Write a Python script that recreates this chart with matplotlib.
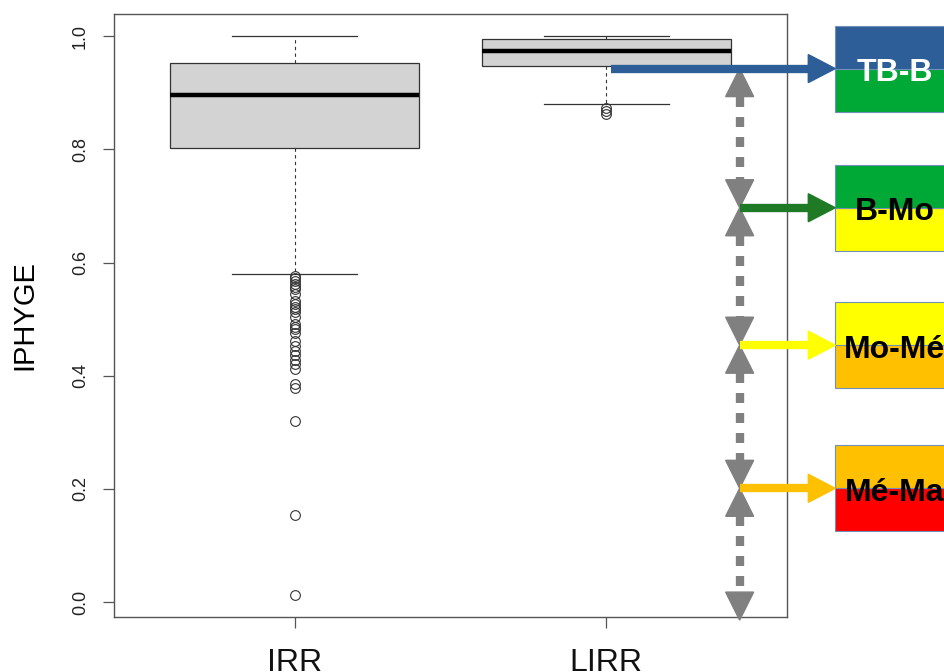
import matplotlib.pyplot as plt
from matplotlib.patches import Polygon, Rectangle
import numpy as np

plt.rcParams['font.family'] = ['Liberation Sans', 'DejaVu Sans']

# boxplot statistics
groups = ['IRR', 'LIRR']
whislo = [0.579, 0.880]
q1 = [0.802, 0.947]
med = [0.896, 0.9735]
q3 = [0.953, 0.995]
whishi = [1.0, 1.0]
irr_out = [0.577, 0.573, 0.568, 0.562, 0.557, 0.553, 0.545, 0.532, 0.527, 0.522,
           0.518, 0.512, 0.503, 0.492, 0.487, 0.482, 0.476, 0.462, 0.452, 0.443,
           0.437, 0.428, 0.421, 0.412, 0.385, 0.379, 0.320, 0.153, 0.013]
lirr_out = [0.874, 0.868, 0.862]

# class limits and labels
limits = [0.943, 0.697, 0.454, 0.201, -0.032]
classes = ['TB-B', 'B-Mo', 'Mo-Mé', 'Mé-Ma']
top_col = ['#2E5E98', '#00A835', '#FFFF00', '#FFC000']
bot_col = ['#00A835', '#FFFF00', '#FFC000', '#FF0000']
arrow_col = ['#2E5E98', '#1E7A24', '#FFFF00', '#FFC000']
txt_col = ['white', 'black', 'black', 'black']

fig = plt.figure(figsize=(9.44, 6.72), dpi=100)
ax = fig.add_axes([114/944, 55/672, 673/944, 603/672])

stats = []
for i, g in enumerate(groups):
    stats.append(dict(label=g, med=med[i], q1=q1[i], q3=q3[i],
                      whislo=whislo[i], whishi=whishi[i],
                      fliers=[irr_out, lirr_out][i]))
ax.bxp(stats, positions=[1, 2], widths=0.8, capwidths=0.4, patch_artist=True,
       boxprops=dict(facecolor='#D3D3D3', edgecolor='#333333', lw=0.9),
       medianprops=dict(color='black', lw=3.2, solid_capstyle='butt'),
       whiskerprops=dict(color='#333333', lw=0.8, linestyle=(0, (3, 3))),
       capprops=dict(color='#333333', lw=0.9),
       flierprops=dict(marker='o', mfc='none', mec='#333333', ms=7, mew=0.8))

ax.set_xlim(0.42, 2.58)
ax.set_ylim(-0.0265, 1.0395)
ax.set_yticks([0.0, 0.2, 0.4, 0.6, 0.8, 1.0])
ax.set_yticklabels(['0.0', '0.2', '0.4', '0.6', '0.8', '1.0'], rotation=90,
                   va='center', fontsize=13, color='#222222')
ax.set_xticks([1, 2])
ax.set_xticklabels(groups, fontsize=23, color='#111111')
ax.tick_params(axis='y', length=8, width=0.9, color='#555555', pad=10)
ax.tick_params(axis='x', length=8, width=0.9, color='#555555', pad=14)
ax.set_ylabel('IPHYGE', fontsize=21, labelpad=24)
for s in ax.spines.values():
    s.set_color('#555555')
    s.set_linewidth(1.0)

# pixel -> data scale
px_x = 2.16 / 673
px_y = 1.066 / 603


def tri(x, ytip, d, color):
    # triangle head pointing up (d=1) or down (d=-1)
    hw, hl = 14 * px_x, 28 * px_y
    ax.add_patch(Polygon([[x, ytip], [x - hw, ytip - d * hl], [x + hw, ytip - d * hl]],
                         closed=True, color=color, clip_on=False, zorder=5))


def harrow(x0, x1, y, color):
    hw, hl = 14 * px_y, 27 * px_x
    ax.plot([x0, x1 - hl], [y, y], color=color, lw=6, solid_capstyle='butt',
            clip_on=False, zorder=6)
    ax.add_patch(Polygon([[x1, y], [x1 - hl, y + hw], [x1 - hl, y - hw]],
                         closed=True, color=color, clip_on=False, zorder=6))


xg = 2.428
gray = '#808080'
for a, b in zip(limits[:-1], limits[1:]):
    ax.plot([xg, xg], [a - 28 * px_y, b + 28 * px_y], color=gray, lw=6,
            linestyle=(0, (1.2, 1.2)), clip_on=False, zorder=4)
    tri(xg, a, 1, gray)
    tri(xg, b, -1, gray)

xb = 2.735
for i, c in enumerate(classes):
    y = limits[i]
    x0 = 2.016 if i == 0 else xg
    harrow(x0, xb, y, arrow_col[i])
    ax.add_patch(Rectangle((xb, y - 0.076), 0.6, 0.076, facecolor=bot_col[i],
                           edgecolor='#7090B8', lw=0.8, clip_on=False, zorder=3))
    ax.add_patch(Rectangle((xb, y), 0.6, 0.076, facecolor=top_col[i],
                           edgecolor='#7090B8', lw=0.8, clip_on=False, zorder=3))
    ax.text(2.926, y - 0.008, c, ha='center', va='center', fontsize=23,
            fontweight='bold', color=txt_col[i], clip_on=False, zorder=7)

fig.savefig('out.png', dpi=100)
